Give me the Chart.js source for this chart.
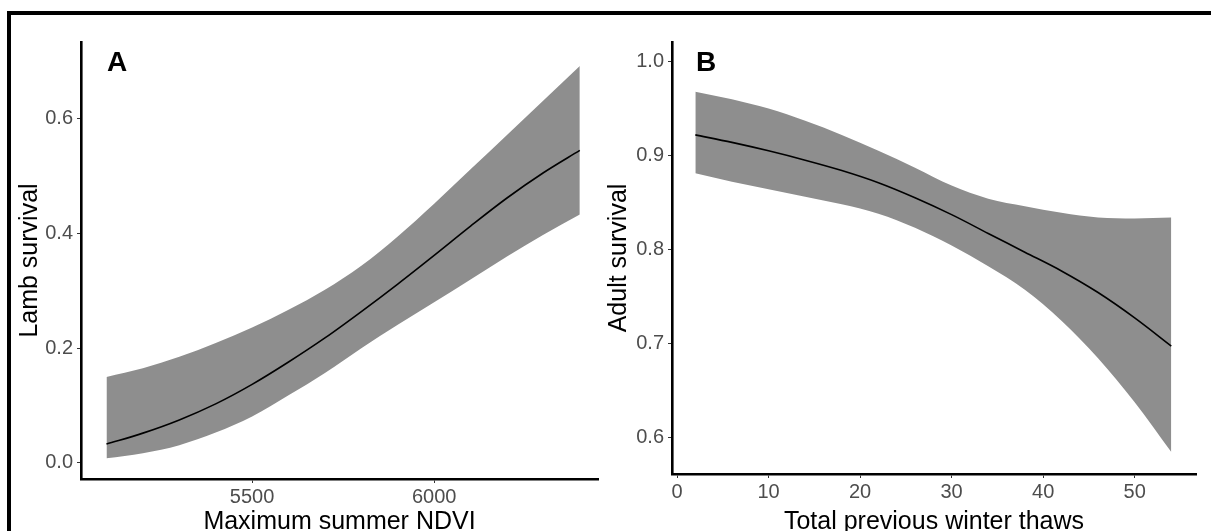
<!DOCTYPE html>
<html>
<head>
<meta charset="utf-8">
<script src="https://cdn.jsdelivr.net/npm/chart.js@4.4.1/dist/chart.umd.min.js"></script>
<style>
  html, body { margin: 0; padding: 0; background: #fff; overflow: hidden; }
  #page { position: relative; width: 1211px; height: 531px; overflow: hidden; }
  #frame { position: absolute; left: 7px; top: 11px; width: 1400px; height: 700px;
           border-left: 4px solid #000; border-top: 4px solid #000; }
  canvas { position: absolute; }
  #chartA { left: 12px; top: 16px; }
  #chartB { left: 600px; top: 16px; }
  .tag { position: absolute; font: bold 28px "Liberation Sans", Arial, sans-serif; line-height: 28px; color: #000; }
</style>
</head>
<body>
<div id="page">
  <div id="frame"></div>
  <canvas id="chartA" width="592" height="515"></canvas>
  <canvas id="chartB" width="611" height="515"></canvas>
  <div class="tag" style="left:107px; top:48px;">A</div>
  <div class="tag" style="left:696px; top:48px;">B</div>
</div>
<script>
// panel A: lamb survival vs maximum summer NDVI
var ndvi = [5100, 5200, 5300, 5400, 5500, 5600, 5700, 5800, 5900, 6000, 6100, 6200, 6300, 6400];
var lambMean  = [0.033, 0.052, 0.075, 0.103, 0.137, 0.176, 0.218, 0.264, 0.312, 0.362, 0.413, 0.462, 0.506, 0.545];
var lambUpper = [0.150, 0.165, 0.185, 0.209, 0.236, 0.267, 0.302, 0.344, 0.395, 0.452, 0.512, 0.572, 0.632, 0.692];
var lambLower = [0.008, 0.017, 0.031, 0.053, 0.081, 0.118, 0.157, 0.200, 0.241, 0.280, 0.320, 0.360, 0.398, 0.433];
var ndviTicks = [5500, 6000];
var lambTicks = [0.0, 0.2, 0.4, 0.6];

// panel B: adult survival vs total previous winter thaws
var thaws = [2, 6, 10, 14, 18, 22, 26, 30, 34, 38, 42, 46, 50, 54];
var adultMean  = [0.922, 0.914, 0.905, 0.895, 0.884, 0.871, 0.855, 0.837, 0.817, 0.797, 0.777, 0.754, 0.727, 0.697];
var adultUpper = [0.968, 0.960, 0.950, 0.937, 0.922, 0.905, 0.887, 0.868, 0.854, 0.846, 0.839, 0.834, 0.833, 0.834];
var adultLower = [0.881, 0.872, 0.864, 0.856, 0.848, 0.838, 0.823, 0.804, 0.782, 0.757, 0.724, 0.684, 0.637, 0.584];
var thawTicks  = [0, 10, 20, 30, 40, 50];
var adultTicks = [0.6, 0.7, 0.8, 0.9, 1.0];

var FONT = '"Liberation Sans", Arial, sans-serif';
var RIBBON = '#8e8e8e';

function pts(xs, ys) {
  return xs.map(function (x, i) { return { x: x, y: ys[i] }; });
}

function makePanel(id, cfg) {
  var ctx = document.getElementById(id).getContext('2d');
  return new Chart(ctx, {
    type: 'line',
    data: {
      datasets: [
        { data: pts(cfg.xs, cfg.upper), fill: '+1', backgroundColor: RIBBON, borderWidth: 0, pointRadius: 0, order: 1 },
        { data: pts(cfg.xs, cfg.lower), fill: false, borderWidth: 0, pointRadius: 0, order: 2 },
        { data: pts(cfg.xs, cfg.mean), fill: false, borderColor: '#000', borderWidth: 1.6, pointRadius: 0, order: 0 }
      ]
    },
    options: {
      responsive: false,
      animation: false,
      events: [],
      elements: { line: { cubicInterpolationMode: 'monotone' } },
      layout: { padding: { top: 26, right: cfg.padRight, left: 0, bottom: 0 } },
      plugins: { legend: { display: false }, tooltip: { enabled: false } },
      scales: {
        x: {
          type: 'linear',
          min: cfg.xMin, max: cfg.xMax,
          afterBuildTicks: function (s) { s.ticks = cfg.xTicks.map(function (v) { return { value: v }; }); },
          afterFit: function (s) { s.height = cfg.xHeight; },
          border: { color: '#000', width: 2.6 },
          grid: { display: true, drawOnChartArea: false, drawTicks: true, tickLength: 4, color: '#333', lineWidth: 1 },
          ticks: { color: '#4d4d4d', font: { family: FONT, size: 20 }, padding: 2, maxRotation: 0,
                   callback: function (v) { return String(v); } },
          title: { display: true, text: cfg.xTitle, color: '#000', font: { family: FONT, size: 25, lineHeight: 0.64 }, padding: { top: 0, bottom: 1 } }
        },
        y: {
          min: cfg.yMin, max: cfg.yMax,
          afterBuildTicks: function (s) { s.ticks = cfg.yTicks.map(function (v) { return { value: v }; }); },
          afterFit: function (s) { s.width = cfg.yWidth; },
          border: { color: '#000', width: 2.6 },
          grid: { display: true, drawOnChartArea: false, drawTicks: true, tickLength: 4, color: '#333', lineWidth: 1 },
          ticks: { color: '#4d4d4d', font: { family: FONT, size: 20 }, padding: 4,
                   callback: function (v) { return Number(v).toFixed(1); } },
          title: { display: true, text: cfg.yTitle, color: '#000', font: { family: FONT, size: 25, lineHeight: 1 }, padding: { top: cfg.yTitlePad, bottom: 0 } }
        }
      }
    }
  });
}

makePanel('chartA', {
  xs: ndvi, mean: lambMean, upper: lambUpper, lower: lambLower,
  xMin: 5030, xMax: 6450, xTicks: ndviTicks,
  yMin: -0.028, yMax: 0.734, yTicks: lambTicks,
  xTitle: 'Maximum summer NDVI', yTitle: 'Lamb survival',
  yWidth: 69, xHeight: 52, padRight: 6, yTitlePad: 6
});

makePanel('chartB', {
  xs: thaws, mean: adultMean, upper: adultUpper, lower: adultLower,
  xMin: -0.55, xMax: 56.7, xTicks: thawTicks,
  yMin: 0.5606, yMax: 1.021, yTicks: adultTicks,
  xTitle: 'Total previous winter thaws', yTitle: 'Adult survival',
  yWidth: 72, xHeight: 57, padRight: 15, yTitlePad: 7
});
</script>
</body>
</html>
